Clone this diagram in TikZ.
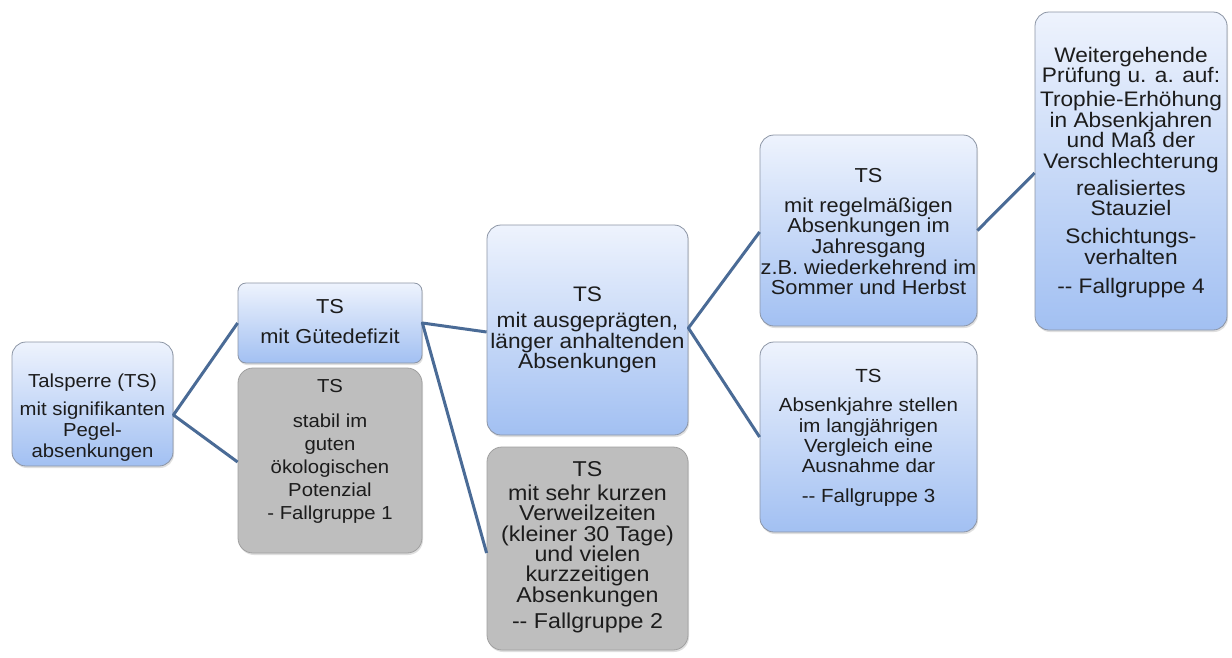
\documentclass[tikz,border=0pt]{standalone}
\usepackage{fontspec}
\setmainfont{Liberation Sans}[FakeStretch=1.08]
\usetikzlibrary{shadows}
\definecolor{lineblue}{HTML}{4A6B96}
\definecolor{boxtop}{HTML}{EEF3FD}
\definecolor{boxbot}{HTML}{A2C0F2}
\definecolor{boxborder}{HTML}{8C95A5}
\definecolor{grayfill}{HTML}{BEBEBE}
\definecolor{grayborder}{HTML}{A0A0A0}
\definecolor{txtcol}{HTML}{1C1C1C}
\tikzset{
  bluebox/.style={draw=boxborder, line width=0.8pt, rounded corners=14pt, inner sep=0pt,
    top color=boxtop, bottom color=boxbot,
    drop shadow={opacity=0.25, shadow xshift=1pt, shadow yshift=-2pt}},
  graybox/.style={draw=grayborder, line width=0.8pt, rounded corners=15pt, inner sep=0pt,
    fill=grayfill, drop shadow={opacity=0.25, shadow xshift=1pt, shadow yshift=-2pt}},
  conn/.style={draw=lineblue, line width=3pt, line join=round},
  boxtext/.style={text=txtcol, align=center, inner sep=0pt, anchor=north},
}
\begin{document}
\begin{tikzpicture}[x=1pt,y=-1pt]
\useasboundingbox (0,0) rectangle (1232,657);
\fill[white] (0,0) rectangle (1232,657);

% boxes
\node[bluebox, minimum width=161pt, minimum height=124pt] (b1) at (92.5,404) {};
\node[graybox, minimum width=184pt, minimum height=185pt] (b3) at (330,460.5) {};
\node[bluebox, rounded corners=8pt, minimum width=184pt, minimum height=80pt] (b2) at (330,323) {};
\node[bluebox, minimum width=201pt, minimum height=210pt] (b4) at (587.5,330) {};
\node[graybox, minimum width=201pt, minimum height=203pt] (b5) at (587.5,548.5) {};
\node[bluebox, minimum width=217pt, minimum height=191pt] (b6) at (868.5,230.5) {};
\node[bluebox, minimum width=217pt, minimum height=190pt] (b7) at (868.5,437) {};
\node[bluebox, minimum width=192pt, minimum height=318pt] (b8) at (1131,171) {};

% connectors
\draw[conn] (b2.west) -- ([yshift=-11pt]b1.east) -- ([yshift=-1.5pt]b3.west);
\draw[conn] ([yshift=-2pt]b4.west) -- (b2.east) -- ([yshift=-4.5pt]b5.west);
\draw[conn] ([yshift=-1.5pt]b6.west) -- ([yshift=2pt]b4.east) -- (b7.west);
\draw[conn] (b6.east) -- ([yshift=-2pt]b8.west);

% texts
\node[boxtext, font=\fontsize{18.8}{21}\selectfont] (t1) at (92.5,373.3)
  {Talsperre (TS)\\[7pt] mit signifikanten\\ Pegel-\\ absenkungen};
\node[boxtext, font=\fontsize{20.2}{21}\selectfont] (t2) at (330,298.7)
  {TS\\[9pt] mit Gütedefizit};
\node[boxtext, font=\fontsize{18.8}{23}\selectfont] (t3) at (330,379.4)
  {TS\\[12pt] stabil im\\ guten\\ ökologischen\\ Potenzial\\ - Fallgruppe 1};
\node[boxtext, font=\fontsize{21}{20.5}\selectfont] (t4) at (587.5,287)
  {TS\\[5.5pt] mit ausgeprägten,\\ länger anhaltenden\\ Absenkungen};
\node[boxtext, font=\fontsize{21.5}{20.4}\selectfont] (t5) at (587.5,461.6)
  {TS\\[3pt] mit sehr kurzen\\ Verweilzeiten\\ (kleiner 30 Tage)\\ und vielen\\ kurzzeitigen\\ Absenkungen\\[5.5pt] -{}- Fallgruppe 2};
\node[boxtext, font=\fontsize{20.2}{20.7}\selectfont] (t6) at (868.5,167.7)
  {TS\\[9.3pt] mit regelmäßigen\\ Absenkungen im\\ Jahresgang\\ z.B. wiederkehrend im\\ Sommer und Herbst};
\node[boxtext, font=\fontsize{19}{20.3}\selectfont] (t7) at (868.5,369.4)
  {TS\\[8.7pt] Absenkjahre stellen\\ im langjährigen\\ Vergleich eine\\ Ausnahme dar\\[9.7pt] -{}- Fallgruppe 3};
\node[boxtext, font=\fontsize{21}{20.5}\selectfont] (t8) at (1131,47)
  {Weitergehende\\ Prüfung u. a. auf:\\[3.5pt] Trophie-Erhöhung\\ in Absenkjahren\\ und Maß der\\ Verschlechterung\\[6.5pt] realisiertes\\ Stauziel\\[7.5pt] Schichtungs-\\ verhalten\\[8.5pt] -{}- Fallgruppe 4};
\end{tikzpicture}
\end{document}
